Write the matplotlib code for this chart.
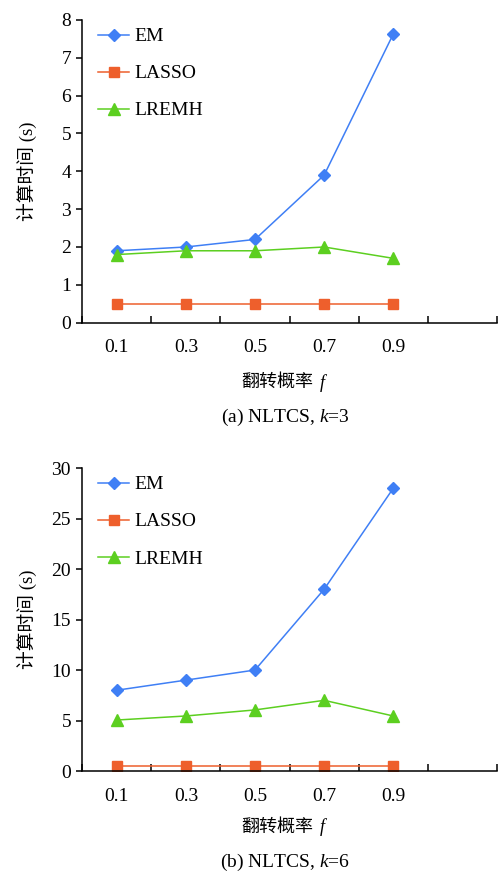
import numpy as np
import matplotlib
matplotlib.use('Agg')
import matplotlib.pyplot as plt

plt.rcParams['font.family'] = ['Liberation Serif', 'Noto Sans CJK SC']
plt.rcParams['mathtext.fontset'] = 'custom'
plt.rcParams['mathtext.it'] = 'Liberation Serif:italic'
plt.rcParams['mathtext.rm'] = 'Liberation Serif'

# 翻转概率
categories = ['0.1', '0.3', '0.5', '0.7', '0.9']

# (a) NLTCS, k=3
em_k3 = [1.9, 2.0, 2.2, 3.9, 7.63]
lasso_k3 = [0.5, 0.5, 0.5, 0.5, 0.5]
lremh_k3 = [1.8, 1.9, 1.9, 2.0, 1.7]

# (b) NLTCS, k=6
em_k6 = [8.0, 9.0, 10.0, 18.0, 28.0]
lasso_k6 = [0.5, 0.5, 0.5, 0.5, 0.5]
lremh_k6 = [5.05, 5.45, 6.05, 7.0, 5.45]

c_em = '#3f7ff5'
c_lasso = '#ee5f2c'
c_lremh = '#5ccf20'

fig = plt.figure(figsize=(4.98, 8.73), dpi=100)
ax1 = fig.add_axes([0.165, 0.6304, 0.833, 0.3467])
ax2 = fig.add_axes([0.165, 0.1168, 0.833, 0.3471])

# axes, series, ymax, step, caption, xlabel y, caption y (axes fraction)
panels = [
    (ax1, em_k3, lasso_k3, lremh_k3, 8, 1, r'(a) NLTCS, $k$=3', -0.199, -0.312),
    (ax2, em_k6, lasso_k6, lremh_k6, 30, 5, r'(b) NLTCS, $k$=6', -0.185, -0.30),
]

x = np.arange(len(categories))
for ax, em, lasso, lremh, ymax, ystep, caption, xl_y, cap_y in panels:
    ax.plot(x, em, color=c_em, lw=1.1, marker='D', ms=6.5, label='EM')
    ax.plot(x, lasso, color=c_lasso, lw=1.1, marker='s', ms=7.5, label='LASSO')
    ax.plot(x, lremh, color=c_lremh, lw=1.1, marker='^', ms=9, label='LREMH')

    ax.set_xlim(-0.5, 5.5)
    ax.set_ylim(0, ymax)
    ax.set_yticks(np.arange(0, ymax + 0.1, ystep))
    ax.set_xticks(np.arange(-0.5, 5.6, 1.0))
    ax.set_xticklabels([])
    ax.set_xticks(x, minor=True)
    ax.set_xticklabels(categories, minor=True)
    ax.tick_params(axis='x', which='major', direction='in', length=5, width=1.1)
    ax.tick_params(axis='x', which='minor', length=0, pad=12, labelsize=14)
    ax.tick_params(axis='y', direction='out', length=4, width=1.1, labelsize=14, pad=4)

    for s in ['top', 'right']:
        ax.spines[s].set_visible(False)
    for s in ['left', 'bottom']:
        ax.spines[s].set_linewidth(1.1)

    ax.set_ylabel('计算时间 (s)', fontsize=13.5, va='center')
    ax.yaxis.set_label_coords(-0.1325, 0.5)
    ax.text(0.557, xl_y, '翻转概率', transform=ax.transAxes,
            ha='right', va='center', fontsize=13)
    ax.text(0.573, xl_y, 'f', transform=ax.transAxes, style='italic',
            ha='left', va='center', fontsize=13)
    ax.legend(loc='upper left', bbox_to_anchor=(0.02, 1.0), frameon=False,
              fontsize=14, handlelength=1.6, handletextpad=0.25,
              labelspacing=1.0, borderaxespad=0)
    ax.text(0.489, cap_y, caption, transform=ax.transAxes,
            ha='center', va='center', fontsize=14)

fig.savefig('out.png', dpi=100)
